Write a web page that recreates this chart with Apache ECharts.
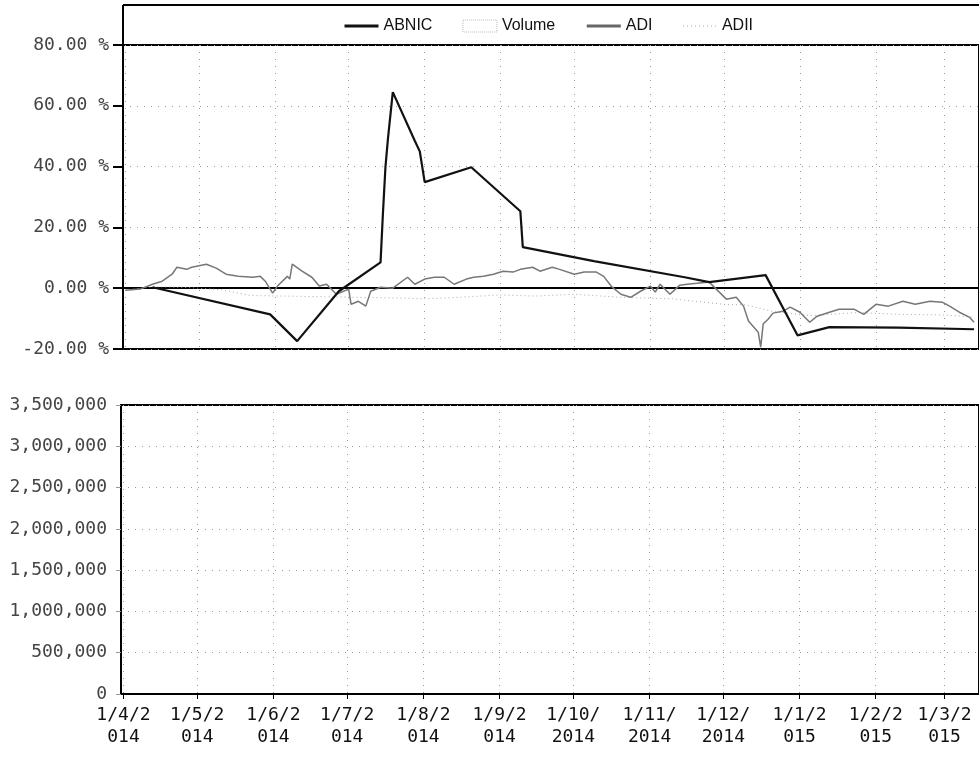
<!DOCTYPE html>
<html>
<head>
<meta charset="utf-8">
<script src="https://cdn.jsdelivr.net/npm/echarts@6/dist/echarts.min.js"></script>
<style>
html,body{margin:0;padding:0;background:#fff;}
#chart{width:979px;height:765px;}
</style>
</head>
<body>
<div id="chart"></div>
<script>
// ---- data ----
var monthTicks = ['2014-04-01','2014-05-01','2014-06-01','2014-07-01','2014-08-01','2014-09-01',
  '2014-10-01','2014-11-01','2014-12-01','2015-01-01','2015-02-01','2015-03-01'];
var legendNames = ['ABNIC','Volume','ADI','ADII'];

var abnic = [
  ['2014-04-12', 0.3], ['2014-05-30', -8.6], ['2014-06-10', -17.4], ['2014-06-27', -1.0],
  ['2014-07-14', 8.5], ['2014-07-15', 25.0], ['2014-07-16', 39.8], ['2014-07-17', 49.0],
  ['2014-07-19', 64.5], ['2014-07-28', 48.4], ['2014-07-30', 45.0], ['2014-08-01', 34.9],
  ['2014-08-20', 39.8], ['2014-09-09', 25.3], ['2014-09-10', 13.5], ['2014-10-09', 8.9],
  ['2014-11-15', 3.6], ['2014-11-25', 2.0], ['2014-12-18', 4.3], ['2014-12-31', -15.5],
  ['2015-01-13', -12.8], ['2015-02-10', -13.0], ['2015-03-13', -13.5]
];

var adi = [
  ['2014-04-01', -0.7], ['2014-04-07', -0.3], ['2014-04-12', 1.3], ['2014-04-16', 2.3],
  ['2014-04-20', 4.6], ['2014-04-22', 6.9], ['2014-04-26', 6.2], ['2014-04-28', 6.9],
  ['2014-05-04', 7.9], ['2014-05-08', 6.6], ['2014-05-12', 4.6], ['2014-05-17', 3.9],
  ['2014-05-23', 3.6], ['2014-05-26', 3.9], ['2014-05-28', 2.3], ['2014-05-31', -1.6],
  ['2014-06-02', 0.7], ['2014-06-06', 3.9], ['2014-06-07', 3.0], ['2014-06-08', 7.9],
  ['2014-06-12', 5.6], ['2014-06-16', 3.6], ['2014-06-19', 0.7], ['2014-06-22', 1.3],
  ['2014-06-26', -2.0], ['2014-07-01', -0.3], ['2014-07-02', -5.3], ['2014-07-05', -4.3],
  ['2014-07-08', -5.9], ['2014-07-10', -1.0], ['2014-07-14', 0.3], ['2014-07-19', 0.0],
  ['2014-07-25', 3.6], ['2014-07-28', 1.3], ['2014-08-01', 3.0], ['2014-08-05', 3.6],
  ['2014-08-09', 3.6], ['2014-08-13', 1.3], ['2014-08-18', 3.0], ['2014-08-21', 3.6],
  ['2014-08-25', 3.9], ['2014-08-29', 4.6], ['2014-09-02', 5.6], ['2014-09-06', 5.3],
  ['2014-09-09', 6.2], ['2014-09-14', 6.9], ['2014-09-17', 5.6], ['2014-09-22', 6.9],
  ['2014-09-25', 6.2], ['2014-10-01', 4.6], ['2014-10-05', 5.3], ['2014-10-10', 5.3],
  ['2014-10-13', 3.9], ['2014-10-16', 0.7], ['2014-10-20', -2.0], ['2014-10-24', -3.0],
  ['2014-10-28', -1.0], ['2014-11-01', 0.7], ['2014-11-03', -1.3], ['2014-11-05', 1.3],
  ['2014-11-09', -2.0], ['2014-11-13', 1.0], ['2014-11-16', 1.3], ['2014-11-20', 1.6],
  ['2014-11-25', 2.0], ['2014-12-02', -3.6], ['2014-12-06', -3.0], ['2014-12-09', -5.9],
  ['2014-12-11', -10.8], ['2014-12-15', -14.5], ['2014-12-16', -19.4], ['2014-12-17', -11.8],
  ['2014-12-19', -10.2], ['2014-12-21', -8.2], ['2014-12-25', -7.6], ['2014-12-28', -6.2],
  ['2015-01-01', -7.9], ['2015-01-05', -11.2], ['2015-01-08', -9.2], ['2015-01-13', -7.9],
  ['2015-01-17', -6.9], ['2015-01-23', -6.9], ['2015-01-27', -8.6], ['2015-02-01', -5.3],
  ['2015-02-06', -5.9], ['2015-02-12', -4.3], ['2015-02-17', -5.3], ['2015-02-23', -4.3],
  ['2015-02-28', -4.6], ['2015-03-03', -5.9], ['2015-03-07', -7.9], ['2015-03-11', -9.5],
  ['2015-03-13', -11.2]
];

var adii = [
  ['2014-04-01', -0.7], ['2014-04-12', 0.5], ['2014-04-25', 0.3], ['2014-05-10', -0.5],
  ['2014-05-22', -2.4], ['2014-06-05', -2.6], ['2014-06-20', -2.8], ['2014-07-05', -3.0],
  ['2014-07-20', -3.2], ['2014-08-01', -3.5], ['2014-08-15', -3.0], ['2014-09-01', -2.2],
  ['2014-09-15', -2.6], ['2014-10-01', -2.0], ['2014-10-20', -3.0], ['2014-11-10', -3.5],
  ['2014-12-01', -5.3], ['2014-12-10', -5.5], ['2014-12-20', -7.5], ['2015-01-05', -9.0],
  ['2015-01-25', -8.0], ['2015-02-10', -8.6], ['2015-03-01', -8.8], ['2015-03-13', -9.5]
];

var volume = []; // no visible volume bars in the picture

var pctTicks = { min: -20, max: 80, interval: 20 };
var volTicks = { min: 0, max: 3500000, interval: 500000 };

// ---- chart ----
function ts(s) { var p = s.split('-'); return new Date(+p[0], +p[1] - 1, +p[2]).getTime(); }
function toXY(arr) { return arr.map(function (d) { return [ts(d[0]), d[1]]; }); }
var tickValues = monthTicks.map(ts);
var xMin = ts('2014-03-31'), xMax = ts('2015-03-15');

function fmtDate(v) {
  var d = new Date(v);
  var s = d.getDate() + '/' + (d.getMonth() + 1) + '/' + d.getFullYear();
  return s.slice(0, 5) + '\n' + s.slice(5);
}

var mono = 'DejaVu Sans Mono';
var dottedLine = { color: '#999', type: [1, 6], width: 1 };

var chart = echarts.init(document.getElementById('chart'), null, { renderer: 'canvas' });
chart.setOption({
  backgroundColor: '#fff',
  animation: false,
  graphic: [
    { type: 'line', shape: { x1: 123, y1: 5, x2: 979, y2: 5 }, style: { stroke: '#000', lineWidth: 2 } },
    { type: 'line', shape: { x1: 123, y1: 5, x2: 123, y2: 45 }, style: { stroke: '#000', lineWidth: 2 } }
  ],
  legend: {
    left: 338, top: 13,
    itemWidth: 34, itemHeight: 12, itemGap: 30,
    itemStyle: { opacity: 0 },
    textStyle: { fontFamily: 'Liberation Sans', fontSize: 16, color: '#111' },
    data: [
      { name: 'ABNIC', lineStyle: { width: 3, color: '#111' } },
      { name: 'Volume', icon: 'rect', itemStyle: { opacity: 1, color: '#fff', borderColor: '#bbb', borderWidth: 1, borderType: 'dotted' } },
      { name: 'ADI', lineStyle: { width: 3, color: '#666' } },
      { name: 'ADII', lineStyle: { width: 1, color: '#aaa', type: [1, 3] } }
    ]
  },
  grid: [
    { left: 123, right: 0, top: 45, height: 304, show: true, borderColor: '#000', borderWidth: 2 },
    { left: 121, right: 0, top: 405, height: 289, show: true, borderColor: '#000', borderWidth: 2 }
  ],
  xAxis: [
    {
      type: 'value', gridIndex: 0, min: xMin, max: xMax,
      axisLine: { show: true, lineStyle: { color: '#000', width: 2 } },
      axisTick: { show: false, customValues: tickValues },
      axisLabel: { show: false, customValues: tickValues },
      splitLine: { show: true, lineStyle: dottedLine }
    },
    {
      type: 'value', gridIndex: 1, min: xMin, max: xMax,
      axisLine: { show: true, lineStyle: { color: '#000', width: 2 } },
      axisTick: { show: true, length: 5, lineStyle: { color: '#000' }, customValues: tickValues },
      axisLabel: {
        show: true, customValues: tickValues, formatter: fmtDate,
        fontFamily: mono, fontSize: 18, lineHeight: 22, color: '#111', margin: 10,
        showMinLabel: true, showMaxLabel: true
      },
      splitLine: { show: true, lineStyle: dottedLine }
    }
  ],
  yAxis: [
    {
      type: 'value', gridIndex: 0, min: pctTicks.min, max: pctTicks.max, interval: pctTicks.interval,
      axisLine: { show: true, lineStyle: { color: '#000', width: 2 } },
      axisTick: { show: true, length: 10, lineStyle: { color: '#000', width: 2 } },
      axisLabel: { formatter: function (v) { return v.toFixed(2) + ' %'; },
        fontFamily: mono, fontSize: 18, color: '#444', margin: 14 },
      splitLine: { show: true, lineStyle: dottedLine }
    },
    {
      type: 'value', gridIndex: 1, min: volTicks.min, max: volTicks.max, interval: volTicks.interval,
      axisLine: { show: true, lineStyle: { color: '#000', width: 2 } },
      axisTick: { show: true, length: 5, lineStyle: { color: '#999' } },
      axisLabel: { formatter: function (v) { return v.toLocaleString('en-US'); },
        fontFamily: mono, fontSize: 18, color: '#444', margin: 14 },
      splitLine: { show: true, lineStyle: dottedLine }
    }
  ],
  series: [
    { name: 'ABNIC', type: 'line', xAxisIndex: 0, yAxisIndex: 0, data: toXY(abnic), symbol: 'none',
      itemStyle: { color: '#111' }, lineStyle: { color: '#111', width: 2.2 }, z: 5 },
    { name: 'Volume', type: 'bar', xAxisIndex: 1, yAxisIndex: 1, data: volume,
      itemStyle: { color: '#fff', borderColor: '#bbb', borderType: 'dotted' } },
    { name: 'ADI', type: 'line', xAxisIndex: 0, yAxisIndex: 0, data: toXY(adi), symbol: 'none',
      itemStyle: { color: '#777' }, lineStyle: { color: '#777', width: 1.5 }, z: 4 },
    { name: 'ADII', type: 'line', xAxisIndex: 0, yAxisIndex: 0, data: toXY(adii), symbol: 'none',
      itemStyle: { color: '#aaa' }, lineStyle: { color: '#aaa', width: 1, type: [1, 3] }, z: 3 }
  ]
});
</script>
</body>
</html>
